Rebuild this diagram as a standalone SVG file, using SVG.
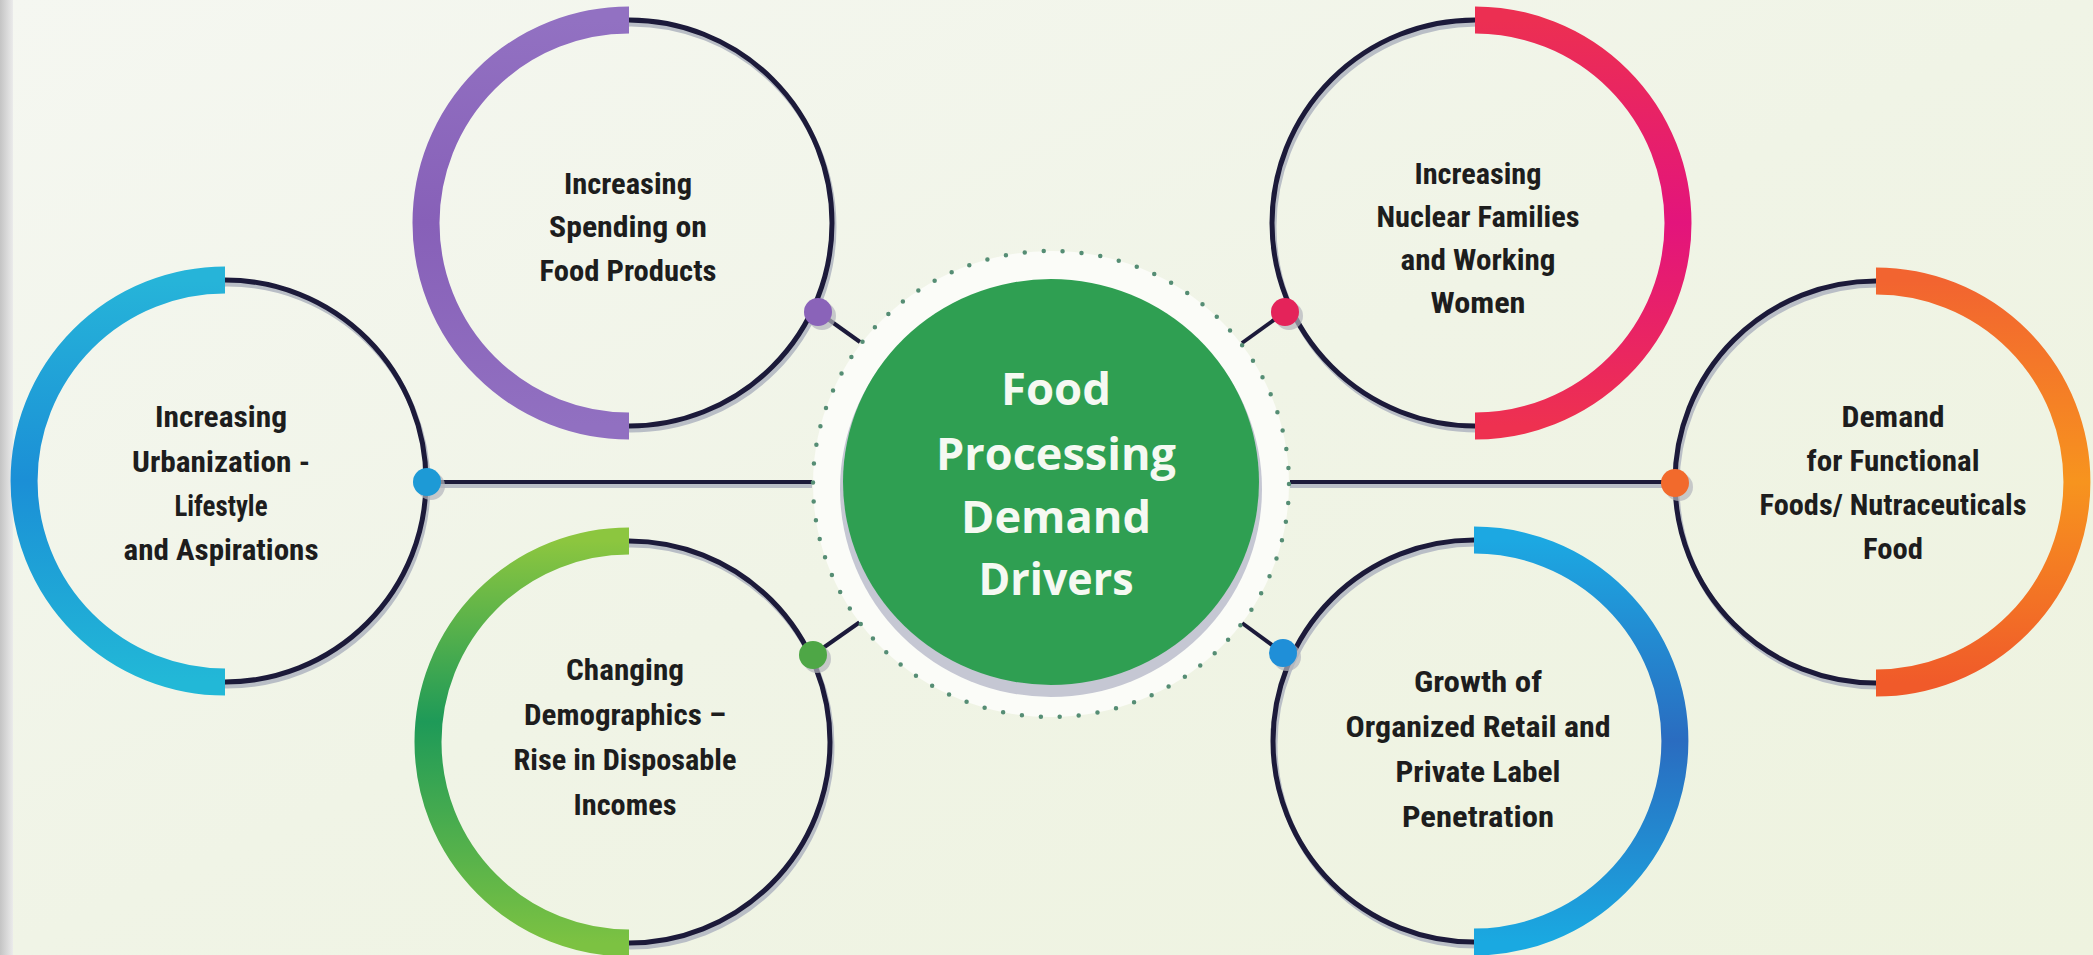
<svg xmlns="http://www.w3.org/2000/svg" width="2093" height="955" viewBox="0 0 2093 955">
<defs>
<linearGradient id="bg" x1="0" y1="0" x2="1" y2="1">
<stop offset="0" stop-color="#f5f7f1"/><stop offset="0.5" stop-color="#f0f4e6"/><stop offset="1" stop-color="#eef3df"/>
</linearGradient>
<linearGradient id="edge" x1="0" y1="0" x2="1" y2="0">
<stop offset="0" stop-color="#c4c4c4"/><stop offset="1" stop-color="#ebebeb"/>
</linearGradient>
<linearGradient id="gPurple" x1="0" y1="0" x2="0" y2="1"><stop offset="0" stop-color="#9271c2"/><stop offset="0.5" stop-color="#8760b8"/><stop offset="1" stop-color="#9170c1"/></linearGradient>
<linearGradient id="gCyan" x1="0" y1="0" x2="0" y2="1"><stop offset="0" stop-color="#26b4d9"/><stop offset="0.5" stop-color="#1b8fd6"/><stop offset="1" stop-color="#22b8d7"/></linearGradient>
<linearGradient id="gGreen" x1="0" y1="0" x2="0" y2="1"><stop offset="0" stop-color="#8cc63f"/><stop offset="0.45" stop-color="#1e9a58"/><stop offset="1" stop-color="#7cc242"/></linearGradient>
<linearGradient id="gPink" x1="0" y1="0" x2="0" y2="1"><stop offset="0" stop-color="#ec2f52"/><stop offset="0.5" stop-color="#e3147c"/><stop offset="1" stop-color="#ee3150"/></linearGradient>
<linearGradient id="gOrange" x1="0" y1="0" x2="0" y2="1"><stop offset="0" stop-color="#f26430"/><stop offset="0.5" stop-color="#f7941e"/><stop offset="1" stop-color="#f05a2a"/></linearGradient>
<linearGradient id="gBlue" x1="0" y1="0" x2="0" y2="1"><stop offset="0" stop-color="#1ca8e2"/><stop offset="0.5" stop-color="#2a6cc0"/><stop offset="1" stop-color="#1aa9e1"/></linearGradient>
<style>
.ring{fill:none;stroke:#1c1a3a;stroke-width:5}
.ringsh{fill:none;stroke:#b9bec6;stroke-width:5}
.band{fill:none;stroke-width:27;stroke-linecap:butt}
.conn{stroke:#1c1a3a;stroke-width:4;fill:none}
.connsh{stroke:#b9bec6;stroke-width:4;fill:none}
.dotsh{fill:#b3b5bc;opacity:0.7}
.lbl{font-family:"Liberation Sans Narrow","Roboto Condensed","Open Sans","Liberation Sans",sans-serif;font-weight:bold;font-size:29px;fill:#1d1d1d;text-anchor:middle}
.ctr{font-family:"Open Sans","Liberation Sans",sans-serif;font-weight:bold;font-size:44px;fill:#f5f9f2;text-anchor:middle}
</style>
</defs>
<rect width="2093" height="955" fill="url(#bg)"/>
<rect x="0" y="0" width="13" height="955" fill="url(#edge)"/>

<g id="connectors">
<line class="connsh" x1="430" y1="486" x2="812" y2="486"/>
<line class="conn" x1="427" y1="482" x2="812" y2="482"/>
<line class="connsh" x1="1290" y1="486" x2="1675" y2="486"/>
<line class="conn" x1="1290" y1="482" x2="1675" y2="482"/>
<line class="conn" x1="818" y1="312" x2="860" y2="342"/>
<line class="conn" x1="1285" y1="312" x2="1242" y2="343"/>
<line class="conn" x1="813" y1="655" x2="860" y2="622"/>
<line class="conn" x1="1283" y1="653" x2="1242" y2="623"/>
</g>

<g id="center">
<ellipse cx="1051" cy="484" rx="238" ry="233" fill="#fbfcf8"/>
<ellipse cx="1051" cy="484" rx="238" ry="233" fill="none" stroke="#558d74" stroke-width="4.5" stroke-linecap="round" stroke-dasharray="0 19"/>
<ellipse cx="1051" cy="489" rx="211" ry="208" fill="#c5c7d3"/>
<ellipse cx="1051" cy="482" rx="208" ry="203" fill="#2f9f52"/>
<text class="ctr" x="1056" y="405" textLength="110" lengthAdjust="spacingAndGlyphs">Food</text>
<text class="ctr" x="1056" y="470" textLength="240" lengthAdjust="spacingAndGlyphs">Processing</text>
<text class="ctr" x="1056" y="533" textLength="190" lengthAdjust="spacingAndGlyphs">Demand</text>
<text class="ctr" x="1056" y="595" textLength="155" lengthAdjust="spacingAndGlyphs">Drivers</text>
</g>

<g id="node-spending">
<circle class="ringsh" cx="631" cy="227" r="203"/>
<circle class="ring" cx="629" cy="223" r="203"/>
<path class="band" stroke="url(#gPurple)" d="M629 20 A203 203 0 0 0 629 426"/>
<circle class="dotsh" cx="822" cy="316" r="14"/>
<circle cx="818" cy="312" r="14" fill="#8a63b9"/>
<text class="lbl" x="628" y="194" textLength="128" lengthAdjust="spacingAndGlyphs">Increasing</text>
<text class="lbl" x="628" y="237" textLength="158" lengthAdjust="spacingAndGlyphs">Spending on</text>
<text class="lbl" x="628" y="281" textLength="177" lengthAdjust="spacingAndGlyphs">Food Products</text>
</g>

<g id="node-nuclear">
<circle class="ringsh" cx="1477" cy="227" r="203"/>
<circle class="ring" cx="1475" cy="223" r="203"/>
<path class="band" stroke="url(#gPink)" d="M1475 20 A203 203 0 0 1 1475 426"/>
<circle class="dotsh" cx="1289" cy="316" r="14"/>
<circle cx="1285" cy="312" r="14" fill="#e4235a"/>
<text class="lbl" x="1478" y="184" textLength="127" lengthAdjust="spacingAndGlyphs">Increasing</text>
<text class="lbl" x="1478" y="227" textLength="203" lengthAdjust="spacingAndGlyphs">Nuclear Families</text>
<text class="lbl" x="1478" y="270" textLength="155" lengthAdjust="spacingAndGlyphs">and Working</text>
<text class="lbl" x="1478" y="313" textLength="95" lengthAdjust="spacingAndGlyphs">Women</text>
</g>

<g id="node-urbanization">
<circle class="ringsh" cx="227" cy="485" r="201"/>
<circle class="ring" cx="225" cy="481" r="201"/>
<path class="band" stroke="url(#gCyan)" d="M225 280 A201 201 0 0 0 225 682"/>
<circle class="dotsh" cx="431" cy="486" r="14"/>
<circle cx="427" cy="482" r="14" fill="#1d9ad6"/>
<text class="lbl" x="221" y="427" textLength="132" lengthAdjust="spacingAndGlyphs">Increasing</text>
<text class="lbl" x="221" y="472" textLength="178" lengthAdjust="spacingAndGlyphs">Urbanization -</text>
<text class="lbl" x="221" y="516" textLength="93" lengthAdjust="spacingAndGlyphs">Lifestyle</text>
<text class="lbl" x="221" y="560" textLength="195" lengthAdjust="spacingAndGlyphs">and Aspirations</text>
</g>

<g id="node-functional">
<circle class="ringsh" cx="1878" cy="486" r="201"/>
<circle class="ring" cx="1876" cy="482" r="201"/>
<path class="band" stroke="url(#gOrange)" d="M1876 281 A201 201 0 0 1 1876 683"/>
<circle class="dotsh" cx="1679" cy="487" r="14"/>
<circle cx="1675" cy="483" r="14" fill="#f26a2c"/>
<text class="lbl" x="1893" y="427" textLength="103" lengthAdjust="spacingAndGlyphs">Demand</text>
<text class="lbl" x="1893" y="471" textLength="173" lengthAdjust="spacingAndGlyphs">for Functional</text>
<text class="lbl" x="1893" y="515" textLength="267" lengthAdjust="spacingAndGlyphs">Foods/ Nutraceuticals</text>
<text class="lbl" x="1893" y="559" textLength="60" lengthAdjust="spacingAndGlyphs">Food</text>
</g>

<g id="node-demographics">
<circle class="ringsh" cx="631" cy="746" r="201"/>
<circle class="ring" cx="629" cy="742" r="201"/>
<path class="band" stroke="url(#gGreen)" d="M629 541 A201 201 0 0 0 629 943"/>
<circle class="dotsh" cx="817" cy="659" r="14"/>
<circle cx="813" cy="655" r="14" fill="#4ea746"/>
<text class="lbl" x="625" y="680" textLength="118" lengthAdjust="spacingAndGlyphs">Changing</text>
<text class="lbl" x="625" y="725" textLength="202" lengthAdjust="spacingAndGlyphs">Demographics –</text>
<text class="lbl" x="625" y="770" textLength="223" lengthAdjust="spacingAndGlyphs">Rise in Disposable</text>
<text class="lbl" x="625" y="815" textLength="103" lengthAdjust="spacingAndGlyphs">Incomes</text>
</g>

<g id="node-retail">
<circle class="ringsh" cx="1476" cy="745" r="201"/>
<circle class="ring" cx="1474" cy="741" r="201"/>
<path class="band" stroke="url(#gBlue)" d="M1474 540 A201 201 0 0 1 1474 942"/>
<circle class="dotsh" cx="1287" cy="657" r="14"/>
<circle cx="1283" cy="653" r="14" fill="#1f8fd8"/>
<text class="lbl" x="1478" y="692" textLength="128" lengthAdjust="spacingAndGlyphs">Growth of</text>
<text class="lbl" x="1478" y="737" textLength="265" lengthAdjust="spacingAndGlyphs">Organized Retail and</text>
<text class="lbl" x="1478" y="782" textLength="165" lengthAdjust="spacingAndGlyphs">Private Label</text>
<text class="lbl" x="1478" y="827" textLength="152" lengthAdjust="spacingAndGlyphs">Penetration</text>
</g>
</svg>
